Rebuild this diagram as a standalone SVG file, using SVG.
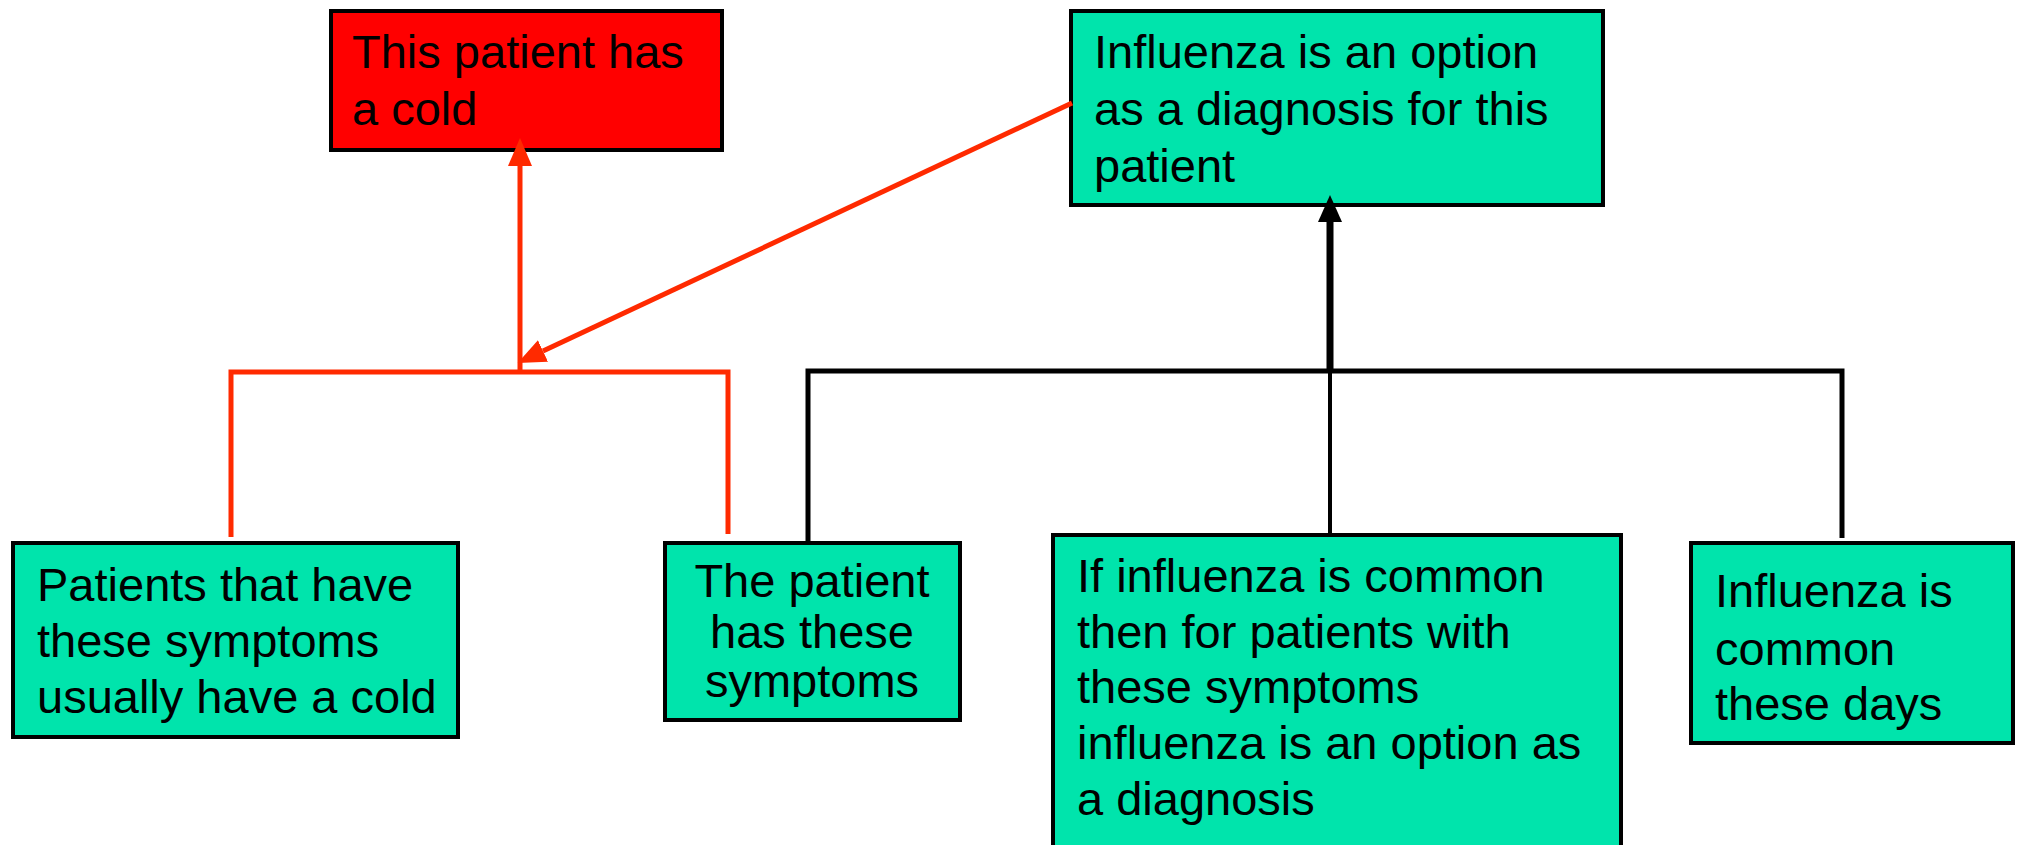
<svg xmlns="http://www.w3.org/2000/svg" width="2017" height="845" viewBox="0 0 2017 845">
<style>
.box{stroke:#000;stroke-width:4}
.red{fill:#FF0000}
.grn{fill:#00E4AC}
.t{font-family:"Liberation Sans",Arial,sans-serif;font-size:47px;fill:#000}
.rl{fill:none;stroke:#FF2A00;stroke-width:5}
.bl{fill:none;stroke:#000;stroke-width:5}
</style>
<defs>
<marker id="ahr" markerUnits="userSpaceOnUse" markerWidth="28" markerHeight="24" refX="0" refY="12" orient="auto" viewBox="0 0 28 24">
<path d="M0,0 L28,12 L0,24 z" fill="#FF2A00"/>
</marker>
<marker id="ahb" markerUnits="userSpaceOnUse" markerWidth="27" markerHeight="24" refX="0" refY="12" orient="auto" viewBox="0 0 27 24">
<path d="M0,0 L27,12 L0,24 z" fill="#000"/>
</marker>
</defs>
<g id="n-cold">
<rect class="box red" x="331" y="11" width="391" height="139"/>
<text class="t" x="352" y="68">This patient has</text>
<text class="t" x="352" y="125">a cold</text>
</g>
<g id="n-influenza-option">
<rect class="box grn" x="1071" y="11" width="532" height="194"/>
<text class="t" x="1094" y="68">Influenza is an option</text>
<text class="t" x="1094" y="125">as a diagnosis for this</text>
<text class="t" x="1094" y="182">patient</text>
</g>
<g id="n-usually-cold">
<rect class="box grn" x="13" y="543" width="445" height="194"/>
<text class="t" x="37" y="601">Patients that have</text>
<text class="t" x="37" y="657">these symptoms</text>
<text class="t" x="37" y="713">usually have a cold</text>
</g>
<g id="n-has-symptoms">
<rect class="box grn" x="665" y="543" width="295" height="177"/>
<text class="t" x="812" y="597" text-anchor="middle">The patient</text>
<text class="t" x="812" y="648" text-anchor="middle">has these</text>
<text class="t" x="812" y="697" text-anchor="middle">symptoms</text>
</g>
<g id="n-rule">
<rect class="box grn" x="1053" y="535" width="568" height="330"/>
<text class="t" x="1077" y="592">If influenza is common</text>
<text class="t" x="1077" y="648">then for patients with</text>
<text class="t" x="1077" y="703">these symptoms</text>
<text class="t" x="1077" y="759">influenza is an option as</text>
<text class="t" x="1077" y="815">a diagnosis</text>
</g>
<g id="n-common">
<rect class="box grn" x="1691" y="543" width="322" height="200"/>
<text class="t" x="1715" y="607">Influenza is</text>
<text class="t" x="1715" y="665">common</text>
<text class="t" x="1715" y="720">these days</text>
</g>
<g id="connectors">
<path class="rl" d="M231,537 V372 H728 V534"/>
<path class="rl" d="M520,374 V166" marker-end="url(#ahr)"/>
<path class="rl" d="M1072,103 L543,351" marker-end="url(#ahr)"/>
<path class="bl" d="M808,543 V371 H1842 V538"/>
<path class="bl" d="M1330,535 V371" style="stroke-width:4"/>
<path class="bl" d="M1330,373 V222" style="stroke-width:7" marker-end="url(#ahb)"/>
</g>
</svg>
